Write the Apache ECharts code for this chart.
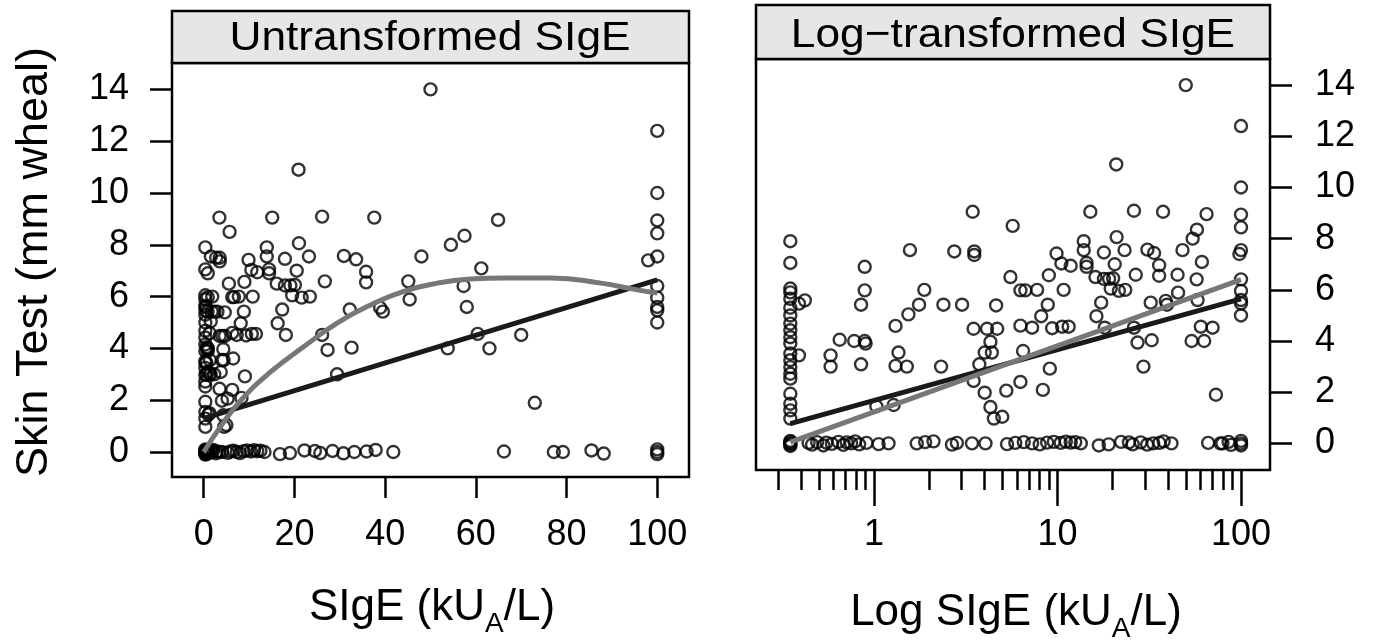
<!DOCTYPE html>
<html>
<head>
<meta charset="utf-8">
<script src="https://cdn.jsdelivr.net/npm/echarts@6/dist/echarts.min.js"></script>
<style>
  html, body { margin: 0; padding: 0; background: #fff; }
  #chart { width: 1373px; height: 642px; }
</style>
</head>
<body>
<div id="chart"></div>
<script>
// sIgE in kUA/L, skin test in mm wheal
const lowestIgE = 0.35;
const lowestIgEWheal = [7.9, 7.05, 6.05, 5.9, 5.65, 5.3, 5.0, 4.68, 4.42, 4.15, 3.9, 3.51, 3.25, 2.98, 2.72, 2.53, 1.94, 1.55, 1.29, 0.97];

const zeroWheal = [
  [0.35, 0.1], [0.35, 0.05], [0.35, 0], [0.35, -0.05], [0.35, -0.1],
  [0.44, 0.02], [0.46, -0.05], [0.49, 0.05], [0.53, -0.08], [0.55, 0.03], [0.59, -0.02], [0.64, 0.06],
  [0.68, -0.06], [0.71, 0.04], [0.75, 0], [0.79, 0.08], [0.83, -0.04], [0.91, 0.02], [1.06, -0.03], [1.2, 0],
  [1.71, 0], [1.9, 0.05], [2.11, 0.08], [2.66, -0.05], [2.83, 0.02], [3.42, 0], [4.05, 0], [5.31, -0.03],
  [5.89, 0.02], [6.55, 0.05], [7.27, 0], [8.0, -0.04], [8.78, 0.03], [9.55, 0.06], [10.4, 0.02], [11.1, 0.07],
  [11.8, 0.03], [12.5, 0.05], [13.4, 0], [16.8, -0.08], [19.0, -0.04], [22.2, 0.06], [24.5, 0.04], [25.7, -0.04],
  [28.4, 0.04], [30.8, -0.05], [33.2, 0], [35.9, 0.02], [37.9, 0.08], [41.8, 0], [66.2, 0.02], [77.2, 0],
  [79.2, 0], [85.5, 0.06], [88.2, -0.06], [100, 0.1], [100, 0], [100, -0.08]
];

const lowRange = [
  [0.39, 5.46], [0.42, 5.59], [0.39, 3.44], [0.58, 3.44], [0.58, 3.0], [0.65, 4.05], [0.78, 4.0], [0.89, 4.0],
  [0.9, 3.9], [0.85, 3.09], [0.89, 6.9], [0.89, 5.98], [0.85, 5.42], [1.03, 1.45], [1.28, 1.5], [1.31, 4.59],
  [1.36, 3.55], [1.31, 3.03], [1.51, 3.0], [1.54, 5.04], [1.76, 5.42], [1.88, 6.0], [1.57, 7.55], [2.39, 5.42],
  [2.32, 3.0], [2.74, 7.5], [3.02, 5.42], [3.45, 9.05], [3.52, 7.5], [3.52, 7.36], [3.49, 4.48], [4.13, 4.48],
  [4.69, 4.48], [4.63, 5.39], [4.31, 3.97], [4.01, 3.55], [4.39, 3.55], [3.75, 3.09], [3.49, 2.44], [4.01, 1.98],
  [4.31, 1.42], [4.5, 0.97], [5.0, 1.04], [5.26, 2.06], [5.7, 8.5], [5.54, 6.5]
];

const highRange = [
  [50, 14.0], [100, 12.4], [20.9, 10.9], [100, 10.0], [100, 8.94], [100, 8.44], [100, 7.55], [98, 7.4],
  [100, 6.41], [100, 5.96], [100, 5.6], [100, 5.47], [100, 5.0], [15.1, 9.05], [26.1, 9.09], [37.6, 9.05],
  [64.9, 8.96], [57.5, 8.35], [54.5, 8.0], [48, 7.55], [61.2, 7.09], [57.3, 6.41], [45.1, 6.59], [45.4, 5.89],
  [58, 5.6], [60.4, 4.56], [70, 4.52], [53.8, 4.0], [63, 4.0], [73, 1.9], [6.28, 5.98], [6.68, 5.98],
  [7.74, 6.0], [9.88, 7.42], [10.5, 7.03], [11.8, 6.94], [8.97, 6.57], [10.8, 6.0], [8.85, 5.42], [8.15, 4.97],
  [6.28, 4.6], [7.27, 4.52], [9.35, 4.5], [10.6, 4.56], [11.5, 4.56], [6.49, 3.61], [9.08, 2.92], [6.28, 2.4],
  [8.32, 2.09], [13.9, 7.9], [13.9, 7.55], [14.4, 7.05], [14.4, 6.9], [17.9, 7.46], [21, 8.06], [23.2, 7.55],
  [20.5, 7.0], [16.1, 6.5], [17.9, 6.43], [19.1, 6.43], [20.1, 6.45], [19.5, 6.05], [21.6, 5.96], [23.4, 6.0],
  [26.7, 6.59], [30.9, 7.57], [33.6, 7.44], [35.8, 6.96], [35.8, 6.55], [17.3, 5.5], [16.3, 4.97], [18.1, 4.52],
  [32.2, 5.5], [38.9, 5.57], [39.5, 5.42], [26.1, 4.52], [27.3, 3.94], [32.6, 4.03], [29.4, 3.0]
];

// fitted lines
const linearFitRaw = [[0, 1.3], [100, 6.65]];
const smoothFitRaw = [[0, 0], [3.7, 0.98], [8.2, 2.0], [14.8, 3.1], [22.1, 4.07], [29.4, 4.98], [36.8, 5.68],
  [44.1, 6.2], [51.5, 6.52], [58.8, 6.68], [66.1, 6.72], [76.6, 6.72], [87.6, 6.52], [95, 6.28], [100, 6.14]];
const linearFitLog = [[0.35, 0.77], [100, 5.65]];
const secondFitLog = [[0.35, 0.05], [100, 6.4]];

const untransformedTicks = [0, 20, 40, 60, 80, 100];
const whealTicks = [0, 2, 4, 6, 8, 10, 12, 14];
const logMajorTicks = [1, 10, 100];
const logMinorTicks = [0.3, 0.4, 0.5, 0.6, 0.7, 0.8, 0.9, 2, 3, 4, 5, 6, 7, 8, 9, 20, 30, 40, 50, 60, 70, 80, 90];

const FONT = '"Liberation Sans", Arial, Helvetica, sans-serif';
const allPoints = lowestIgEWheal.map((y) => [lowestIgE, y]).concat(zeroWheal, lowRange, highRange);
const toLog = (pts) => pts.map((p) => [Math.log10(p[0]), p[1]]);

const tickStyle = { color: '#000', width: 2.5 };
const labelStyle = { color: '#000', fontSize: 36, fontFamily: FONT };
const pointStyle = { color: 'rgba(0,0,0,0)', borderColor: '#000', borderWidth: 2.4 };
const hiddenLine = { show: false, onZero: false };

const chart = echarts.init(document.getElementById('chart'));

chart.setOption({
  animation: false,
  backgroundColor: '#fff',
  grid: [
    { left: 172, top: 63, width: 517, height: 414, show: true, borderColor: '#000', borderWidth: 2.5, backgroundColor: '#fff' },
    { left: 756, top: 59, width: 514, height: 411, show: true, borderColor: '#000', borderWidth: 2.5, backgroundColor: '#fff' }
  ],
  xAxis: [
    {
      gridIndex: 0, type: 'value', min: -7, max: 107, position: 'bottom',
      axisLine: hiddenLine, splitLine: { show: false },
      axisTick: { customValues: untransformedTicks, length: 21, lineStyle: tickStyle },
      axisLabel: Object.assign({ customValues: untransformedTicks, margin: 40 }, labelStyle)
    },
    {
      gridIndex: 1, type: 'value', min: -0.643, max: 2.158, position: 'bottom',
      axisLine: hiddenLine, splitLine: { show: false },
      axisTick: { customValues: logMajorTicks.map(Math.log10), length: 36, lineStyle: tickStyle },
      axisLabel: Object.assign({
        customValues: logMajorTicks.map(Math.log10), margin: 47,
        formatter: (v) => String(Math.round(Math.pow(10, v)))
      }, labelStyle)
    },
    {
      gridIndex: 1, type: 'value', min: -0.643, max: 2.158, position: 'bottom',
      axisLine: hiddenLine, splitLine: { show: false },
      axisTick: { customValues: logMinorTicks.map(Math.log10), length: 20, lineStyle: tickStyle },
      axisLabel: { show: false }
    }
  ],
  yAxis: [
    {
      gridIndex: 0, type: 'value', min: -0.965, max: 15.02, position: 'left',
      axisLine: hiddenLine, splitLine: { show: false },
      axisTick: { customValues: whealTicks, length: 22, lineStyle: tickStyle },
      axisLabel: Object.assign({ customValues: whealTicks, margin: 43 }, labelStyle)
    },
    {
      gridIndex: 1, type: 'value', min: -1.04, max: 15.02, position: 'right',
      axisLine: hiddenLine, splitLine: { show: false },
      axisTick: { customValues: whealTicks, length: 22, lineStyle: tickStyle },
      axisLabel: Object.assign({ customValues: whealTicks, margin: 45 }, labelStyle)
    }
  ],
  series: [
    {
      type: 'scatter', xAxisIndex: 0, yAxisIndex: 0, data: allPoints,
      symbol: 'circle', symbolSize: 12, itemStyle: pointStyle, silent: true
    },
    {
      type: 'line', xAxisIndex: 0, yAxisIndex: 0, data: linearFitRaw, showSymbol: false, silent: true, z: 5,
      lineStyle: { color: '#1a1a1a', width: 5 }
    },
    {
      type: 'line', xAxisIndex: 0, yAxisIndex: 0, data: smoothFitRaw, smooth: true, showSymbol: false, silent: true, z: 5,
      lineStyle: { color: '#777', width: 5 }
    },
    {
      type: 'scatter', xAxisIndex: 1, yAxisIndex: 1, data: toLog(allPoints),
      symbol: 'circle', symbolSize: 12, itemStyle: pointStyle, silent: true
    },
    {
      type: 'line', xAxisIndex: 1, yAxisIndex: 1, data: toLog(linearFitLog), showSymbol: false, silent: true, z: 5,
      lineStyle: { color: '#1a1a1a', width: 5 }
    },
    {
      type: 'line', xAxisIndex: 1, yAxisIndex: 1, data: toLog(secondFitLog), showSymbol: false, silent: true, z: 5,
      lineStyle: { color: '#777', width: 5 }
    }
  ],
  graphic: [
    { type: 'rect', shape: { x: 172, y: 11, width: 517, height: 52 }, style: { fill: '#e6e6e6', stroke: '#000', lineWidth: 2.5 } },
    { type: 'rect', shape: { x: 756, y: 5, width: 514, height: 54 }, style: { fill: '#e6e6e6', stroke: '#000', lineWidth: 2.5 } },
    {
      type: 'text', x: 430, y: 39, scaleX: 1.08,
      style: { text: 'Untransformed SIgE', fontSize: 41, fontFamily: FONT, fill: '#000', align: 'center', verticalAlign: 'middle' }
    },
    {
      type: 'text', x: 1013, y: 36, scaleX: 1.08,
      style: { text: 'Log\u2212transformed SIgE', fontSize: 41, fontFamily: FONT, fill: '#000', align: 'center', verticalAlign: 'middle' }
    },
    {
      type: 'text', x: 35, y: 262, rotation: Math.PI / 2,
      style: { text: 'Skin Test (mm wheal)', fontSize: 45, fontFamily: FONT, fill: '#000', align: 'center', verticalAlign: 'middle' }
    },
    {
      type: 'text', x: 432, y: 586,
      style: {
        text: '{m|SIgE (kU}{s|A}{m|/L)}', align: 'center', verticalAlign: 'top', fill: '#000',
        rich: {
          m: { fontSize: 44, lineHeight: 44, fontFamily: FONT, verticalAlign: 'top' },
          s: { fontSize: 28, lineHeight: 28, fontFamily: FONT, verticalAlign: 'top', padding: [24, 0, 0, 0] }
        }
      }
    },
    {
      type: 'text', x: 1016, y: 591,
      style: {
        text: '{m|Log SIgE (kU}{s|A}{m|/L)}', align: 'center', verticalAlign: 'top', fill: '#000',
        rich: {
          m: { fontSize: 44, lineHeight: 44, fontFamily: FONT, verticalAlign: 'top' },
          s: { fontSize: 28, lineHeight: 28, fontFamily: FONT, verticalAlign: 'top', padding: [24, 0, 0, 0] }
        }
      }
    }
  ]
});
</script>
</body>
</html>
